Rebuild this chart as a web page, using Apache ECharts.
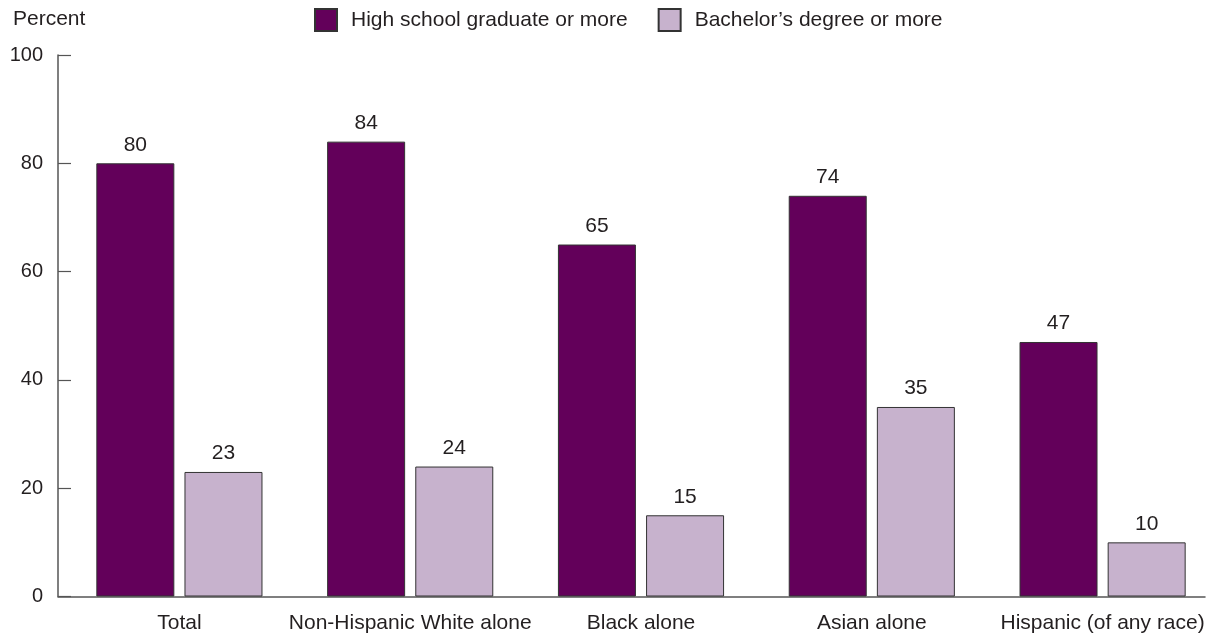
<!DOCTYPE html>
<html>
<head>
<meta charset="utf-8">
<script src="https://cdn.jsdelivr.net/npm/echarts@6/dist/echarts.min.js"></script>
<style>
  html, body { margin: 0; padding: 0; background: #ffffff; }
  #chart { width: 1218px; height: 637px; }
</style>
</head>
<body>
<div id="chart"></div>
<script>
// Educational attainment by race and Hispanic origin (percent)
const categories = ['Total', 'Non-Hispanic White alone', 'Black alone', 'Asian alone', 'Hispanic (of any race)'];
const highSchool = [80, 84, 65, 74, 47];
const bachelors = [23, 24, 15, 35, 10];
const yTicks = [0, 20, 40, 60, 80, 100];
const seriesNames = ['High school graduate or more', 'Bachelor\u2019s degree or more'];

const FONT = '"Liberation Sans", Arial, Helvetica, sans-serif';
const TEXT = '#231f20';
const AXIS = '#555555';
const HS_COLOR = '#63005a';
const BA_COLOR = '#c7b2cd';

const chart = echarts.init(document.getElementById('chart'), null, { renderer: 'canvas' });

const labelStyle = {
  show: true,
  position: 'top',
  distance: 8,
  color: TEXT,
  fontFamily: FONT,
  fontSize: 21
};

chart.setOption({
  animation: false,
  backgroundColor: '#ffffff',
  textStyle: { fontFamily: FONT, color: TEXT },
  title: {
    text: 'Percent',
    left: 8,
    top: 4,
    textStyle: { fontFamily: FONT, fontSize: 21, fontWeight: 'normal', color: TEXT }
  },
  legend: {
    left: 309,
    top: 3,
    itemWidth: 22,
    itemHeight: 22,
    itemGap: 30,
    icon: 'rect',
    data: seriesNames,
    textStyle: { fontFamily: FONT, fontSize: 21, color: TEXT, padding: [0, 0, 0, 9] }
  },
  grid: [
    { left: 64, right: -3, top: 55, height: 541.5, containLabel: false },
    { left: 58, right: 13, top: 55, height: 541.5, containLabel: false }
  ],
  xAxis: [
    {
      type: 'category',
      gridIndex: 0,
      data: categories,
      axisLine: { show: false },
      axisTick: { show: false },
      axisLabel: { color: TEXT, fontFamily: FONT, fontSize: 21, margin: 16, interval: 0 }
    },
    {
      type: 'value',
      gridIndex: 1,
      min: 0,
      max: 1,
      axisLine: { show: true, onZero: false, lineStyle: { color: AXIS, width: 1.5 } },
      axisTick: { show: false },
      axisLabel: { show: false },
      splitLine: { show: false }
    }
  ],
  yAxis: [
    {
      type: 'value',
      gridIndex: 0,
      min: 0,
      max: 100,
      interval: 20,
      offset: 6,
      axisLine: { show: true, lineStyle: { color: AXIS, width: 1.5 } },
      axisTick: { show: true, inside: true, length: 13, lineStyle: { color: AXIS, width: 1.2 } },
      axisLabel: {
        color: TEXT, fontFamily: FONT, fontSize: 20, margin: 15,
        formatter: v => (yTicks.indexOf(v) >= 0 ? String(v) : '')
      },
      splitLine: { show: false }
    },
    {
      type: 'value',
      gridIndex: 1,
      show: false,
      min: 0,
      max: 100
    }
  ],
  series: [
    {
      name: seriesNames[0],
      type: 'bar',
      xAxisIndex: 0,
      yAxisIndex: 0,
      data: highSchool,
      barWidth: 78,
      barGap: '13%',
      itemStyle: { color: HS_COLOR, borderColor: '#333333', borderWidth: 1 },
      label: labelStyle
    },
    {
      name: seriesNames[1],
      type: 'bar',
      xAxisIndex: 0,
      yAxisIndex: 0,
      data: bachelors,
      barWidth: 78,
      barGap: '13%',
      itemStyle: { color: BA_COLOR, borderColor: '#333333', borderWidth: 1 },
      label: labelStyle
    }
  ]
});
</script>
</body>
</html>
